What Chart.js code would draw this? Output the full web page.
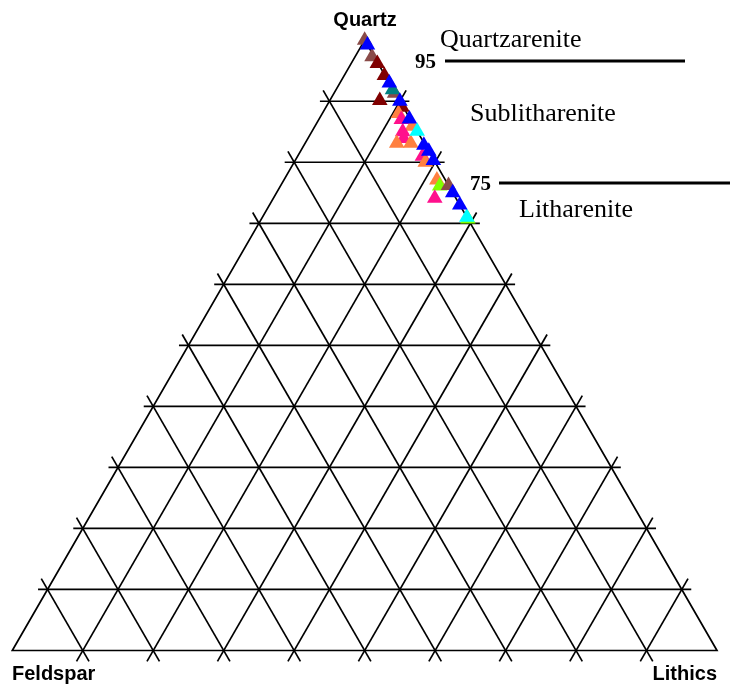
<!DOCTYPE html>
<html>
<head>
<meta charset="utf-8">
<title>QFL ternary diagram</title>
<script src="https://cdn.jsdelivr.net/npm/chart.js@4.4.1/dist/chart.umd.min.js"></script>
<style>
  html, body { margin: 0; padding: 0; background: #ffffff; }
  canvas { display: block; }
</style>
</head>
<body>
<canvas id="qfl" width="730" height="686"></canvas>
<script>
// Modal composition of each sample, in percent (Q + F + L = 100)
const quartz   = [100, 97.3, 91.3, 96.2, 94.2, 90.1, 89.0, 91.9, 88.0, 85.9, 87.0, 83.9, 85.0, 83.1, 83.1, 81.0, 80.0, 77.1, 76.1, 76.2, 74.1, 70.7, 85.1, 71.0, 99.2, 93.0, 90.0, 87.1, 82.8, 81.8, 80.3, 75.0, 73.0];
const feldspar = [0,   0.3,  0.1,  0.1,  0.1,  2.8,  0.2,  0.1,  1.2,  0.3,  1.3,  2.5,  2.1,  3.9,  1.9,  1.3,  1.4,  1.2,  1.3,  0.0,  3.0,  0.0,  0.0,  0.0,  0.0,  0.0,  0.0,  0.1,  0.2,  0.0,  0.1,  0.0,  0.0];
const lithics  = [0,   2.4,  8.6,  3.7,  5.7,  7.1, 10.8,  8.0, 10.8, 13.8, 11.7, 13.6, 12.9, 13.0, 15.0, 17.7, 18.6, 21.7, 22.6, 23.8, 22.9, 29.3, 14.9, 29.0,  0.8,  7.0, 10.0, 12.8, 17.0, 18.2, 19.6, 25.0, 27.0];
// Sample suite each point belongs to
const suite    = ['B', 'B', 'B', 'R', 'R', 'R', 'R', 'T', 'O', 'O', 'P', 'P', 'P', 'O', 'O', 'P', 'O', 'O', 'G', 'B', 'P', 'G', 'C', 'C', 'U', 'U', 'U', 'U', 'U', 'U', 'U', 'U', 'U'];

// Grid every 10 %, corner names and classification boundaries
const gridSteps   = [10, 20, 30, 40, 50, 60, 70, 80, 90];
const cornerNames = ['Quartz', 'Feldspar', 'Lithics'];
const classNames  = ['Quartzarenite', 'Sublitharenite', 'Litharenite'];
const classLimits = ['95', '75'];

const suiteColors = {
  B: '#8a4b48', R: '#800000', T: '#008080', O: '#ff8040',
  P: '#ff108c', G: '#80ff00', C: '#00ffff', U: '#0000ff'
};

const H = Math.sqrt(3) / 2;
// Ternary (Q, L in percent) -> cartesian, Feldspar at origin, Lithics at (1, 0)
function toXY(q, l) {
  return { x: (l + q / 2) / 100, y: (q / 100) * H };
}

const points = quartz.map((q, i) => toXY(q, lithics[i]));
const pointColors = suite.map(s => suiteColors[s]);

const whiteBg = {
  id: 'whiteBg',
  beforeDraw(chart) {
    const c = chart.ctx;
    c.save();
    c.fillStyle = '#ffffff';
    c.fillRect(0, 0, chart.width, chart.height);
    c.restore();
  }
};

const ternaryGrid = {
  id: 'ternaryGrid',
  beforeDatasetsDraw(chart) {
    const c = chart.ctx;
    const sx = chart.scales.x, sy = chart.scales.y;
    const P = (q, l) => {
      const p = toXY(q, l);
      return [sx.getPixelForValue(p.x), sy.getPixelForValue(p.y)];
    };
    const seg = (a, b, ext) => {
      const dx = b[0] - a[0], dy = b[1] - a[1];
      const len = Math.hypot(dx, dy);
      const ux = dx / len, uy = dy / len;
      c.beginPath();
      c.moveTo(a[0] - ux * ext, a[1] - uy * ext);
      c.lineTo(b[0] + ux * ext, b[1] + uy * ext);
      c.stroke();
    };
    c.save();
    c.strokeStyle = '#000000';
    c.lineWidth = 1.7;
    c.lineCap = 'butt';
    // outline
    c.beginPath();
    const top = P(100, 0), left = P(0, 0), right = P(0, 100);
    c.moveTo(top[0], top[1]);
    c.lineTo(left[0], left[1]);
    c.lineTo(right[0], right[1]);
    c.closePath();
    c.stroke();
    gridSteps.forEach(k => {
      // constant quartz (horizontal)
      seg(P(k, 0), P(k, 100 - k), 9.5);
      // constant feldspar (parallel to Q-L side)
      seg(P(0, 100 - k), P(100 - k, 0), 12.5);
      // constant lithics (parallel to Q-F side)
      seg(P(0, k), P(100 - k, k), 12.5);
    });
    c.restore();
  }
};

const labels = {
  id: 'labels',
  afterDatasetsDraw(chart) {
    const c = chart.ctx;
    c.save();
    c.fillStyle = '#000000';
    c.strokeStyle = '#000000';
    c.textBaseline = 'alphabetic';

    c.font = 'bold 20px "Liberation Sans", Arial, sans-serif';
    c.textAlign = 'center';
    c.fillText(cornerNames[0], 365, 26);
    c.textAlign = 'left';
    c.fillText(cornerNames[1], 12, 680);
    c.textAlign = 'right';
    c.fillText(cornerNames[2], 717, 680);

    c.textAlign = 'left';
    c.font = '26px "Liberation Serif", "Times New Roman", serif';
    c.fillText(classNames[0], 440, 47);
    c.fillText(classNames[1], 470, 121);
    c.fillText(classNames[2], 519, 217);

    c.font = 'bold 21px "Liberation Serif", "Times New Roman", serif';
    c.fillText(classLimits[0], 415, 68);
    c.fillText(classLimits[1], 470, 190);

    c.lineWidth = 3;
    c.beginPath();
    c.moveTo(445, 61); c.lineTo(685, 61);
    c.moveTo(499, 183); c.lineTo(730, 183);
    c.stroke();
    c.restore();
  }
};

new Chart(document.getElementById('qfl'), {
  type: 'scatter',
  data: {
    datasets: [{
      data: points,
      pointStyle: 'triangle',
      pointRadius: 9,
      pointHoverRadius: 9,
      pointBorderWidth: 0,
      backgroundColor: pointColors,
      borderColor: pointColors,
      clip: false
    }]
  },
  options: {
    responsive: false,
    animation: false,
    devicePixelRatio: 1,
    layout: { padding: { left: 12.3, right: 13, top: 40.2, bottom: 35.5 } },
    scales: {
      x: { type: 'linear', min: 0, max: 1, display: false },
      y: { type: 'linear', min: 0, max: H, display: false }
    },
    plugins: { legend: { display: false }, tooltip: { enabled: false } },
    events: []
  },
  plugins: [whiteBg, ternaryGrid, labels]
});
</script>
</body>
</html>
